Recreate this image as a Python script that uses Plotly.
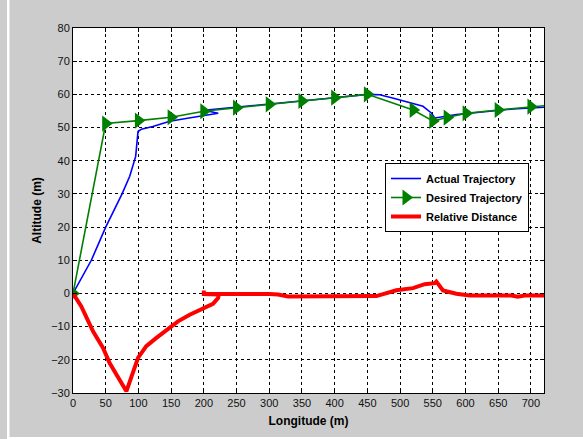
import plotly.graph_objects as go

# Actual trajectory (blue)
actual_x = [0, 10, 28, 50, 65, 75, 86.7, 92, 95.8, 99.4, 104.5, 122, 148, 175, 198.7, 222,
            200, 250, 300, 350, 400, 450, 468.8, 490, 514.7, 535, 547.8, 553, 563, 586, 621.6, 672.6, 720]
actual_y = [0, 3.5, 10, 20, 26, 30, 35.3, 38.5, 41.3, 48.8, 49.5, 50.3, 51.9, 52.8, 53.6, 54.3,
            55.2, 56.1, 57.0, 58.0, 59.0, 60.0, 59.9, 58.8, 57.6, 56.4, 54.4, 52.9, 53.2, 53.9, 54.6, 55.6, 56.1]

# Desired trajectory (green, with markers)
desired_x = [0, 50, 100, 150, 200, 250, 300, 350, 400, 450, 520, 550, 572, 601, 650, 700, 745]
desired_y = [0, 51.2, 52.1, 53.1, 54.9, 56.0, 57.0, 58.0, 59.0, 60.0, 55.3, 52.0, 53.0, 54.3, 55.3, 56.3, 57.0]

# Relative distance (red)
rel_x = [0, 1.5, 12.7, 30.6, 45.9, 56, 81.6, 99.4, 112, 127.5, 147.8, 160.5, 178.4, 198.7, 214, 221.7, 223,
         200, 200, 200, 300, 313.4, 328.7, 463.8, 494.3, 519.7, 537.6, 552.9, 555.4, 565.6, 586, 606.4,
         670, 680, 690, 718.5, 720]
rel_y = [0, -0.4, -3.9, -11.4, -16.4, -21, -29.5, -19.4, -15.9, -13.4, -10.4, -8.4, -6.4, -4.4, -3.1, -1.4, -0.3,
         -0.2, 0.9, -0.2, -0.2, -0.3, -0.9, -0.8, 0.95, 1.6, 2.8, 3.1, 3.6, 0.9, -0.1, -0.6,
         -0.6, -1.0, -0.6, -0.6, -0.6]

x_ticks = list(range(0, 701, 50))
y_ticks = list(range(-30, 81, 10))

FONT = "Liberation Sans"

fig = go.Figure()
fig.add_trace(go.Scatter(x=actual_x, y=actual_y, mode="lines", name="Actual Trajectory",
                         line=dict(color="rgb(0,0,255)", width=1.6)))
fig.add_trace(go.Scatter(x=desired_x, y=desired_y, mode="lines+markers", name="Desired Trajectory",
                         line=dict(color="rgb(0,128,0)", width=1.6),
                         marker=dict(symbol="triangle-right", size=14, color="rgb(0,128,0)",
                                     line=dict(width=0))))
fig.add_trace(go.Scatter(x=rel_x, y=rel_y, mode="lines", name="Relative Distance",
                         line=dict(color="rgb(255,0,0)", width=4)))

L, R, T, B = 73, 39, 28, 46
W, H = 583, 439
pw, ph = W - L - R, H - T - B

def px_x(p):
    return (p - L) / pw

def px_y(p):
    return (H - B - p) / ph

axis_common = dict(showline=True, linecolor="black", linewidth=1, mirror="ticks",
                   ticks="inside", ticklen=4, tickcolor="black",
                   showgrid=True, gridcolor="black", gridwidth=1, griddash="3px,3px",
                   zeroline=False, tickfont=dict(family=FONT, size=11, color="#111"))

fig.update_layout(
    width=W, height=H,
    margin=dict(l=L, r=R, t=T, b=B),
    paper_bgcolor="#cccccc",
    plot_bgcolor="white",
    showlegend=True,
    legend=dict(x=px_x(385), y=px_y(163), xanchor="left", yanchor="top",
                bgcolor="white", bordercolor="black", borderwidth=1,
                font=dict(family=FONT, size=11, color="black", weight="bold"),
                itemwidth=30, tracegroupgap=0),
    xaxis=dict(range=[0, 720], tickvals=x_ticks,
               title=dict(text="Longitude (m)", standoff=8,
                          font=dict(family=FONT, size=12, color="black", weight="bold")),
               **axis_common),
    yaxis=dict(range=[-30, 80], tickvals=y_ticks,
               title=dict(text="Altitude (m)", standoff=6,
                          font=dict(family=FONT, size=12, color="black", weight="bold")),
               **axis_common),
    shapes=[
        dict(type="rect", xref="paper", yref="paper", x0=px_x(7), x1=px_x(9.5),
             y0=px_y(H + 5), y1=px_y(-5), fillcolor="white", line=dict(width=0), layer="above"),
        dict(type="rect", xref="paper", yref="paper", x0=px_x(8), x1=px_x(W + 5),
             y0=px_y(H + 5), y1=px_y(437), fillcolor="white", line=dict(width=0), layer="above"),
    ],
)

fig.write_html("out.html")
